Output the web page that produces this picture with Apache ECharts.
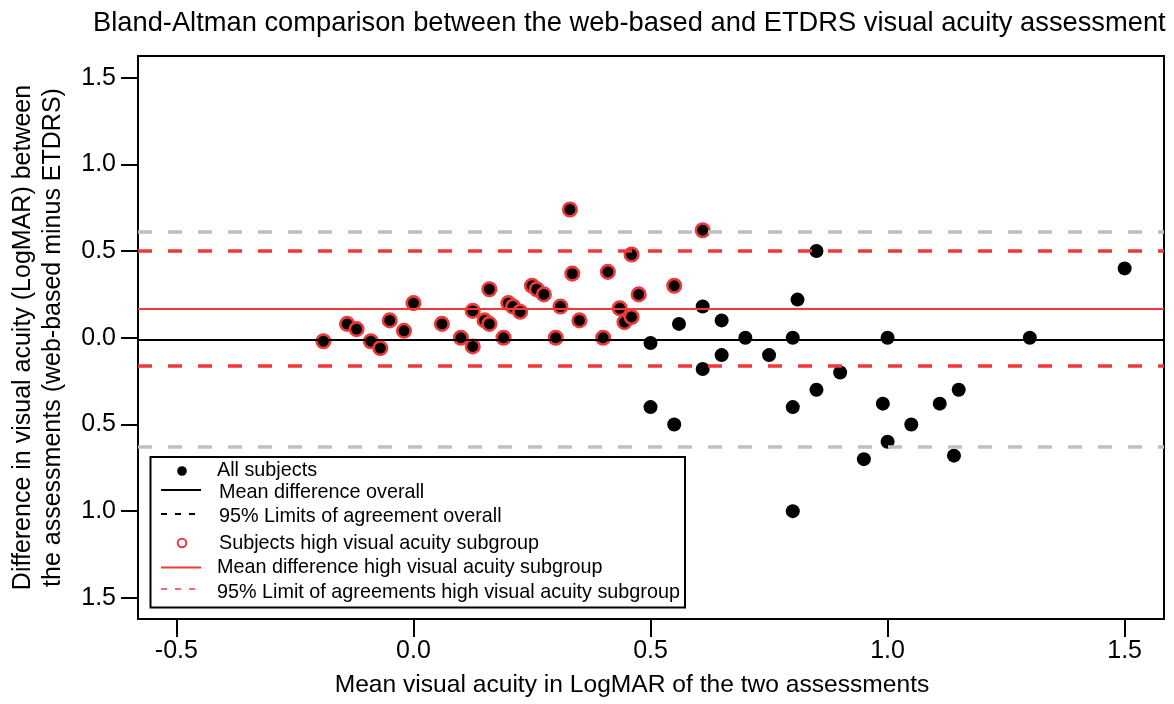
<!DOCTYPE html>
<html>
<head>
<meta charset="utf-8">
<script src="https://cdn.jsdelivr.net/npm/echarts@6/dist/echarts.min.js"></script>
<style>html,body{margin:0;padding:0;background:#fff}#c{width:1174px;height:704px}</style>
</head>
<body>
<div id="c"></div>
<script>
// ---- data ----
const subgroupX = [-0.19, -0.14, -0.12, -0.09, -0.07, -0.05, -0.02, 0.00, 0.06, 0.10, 0.125, 0.125, 0.15, 0.16, 0.16, 0.19, 0.20, 0.21, 0.225, 0.25, 0.26, 0.275, 0.30, 0.31, 0.33, 0.335, 0.35, 0.40, 0.41, 0.435, 0.445, 0.46, 0.46, 0.475, 0.55, 0.61];
const subgroupY = [-0.02, 0.08, 0.05, -0.02, -0.06, 0.10, 0.04, 0.20, 0.08, 0.00, 0.155, -0.05, 0.10, 0.08, 0.28, 0.00, 0.20, 0.18, 0.15, 0.30, 0.28, 0.25, 0.00, 0.18, 0.74, 0.37, 0.10, 0.00, 0.38, 0.17, 0.09, 0.48, 0.12, 0.25, 0.30, 0.62];
const otherX = [0.50, 0.56, 0.61, 0.85, 0.81, 0.65, 0.70, 0.80, 0.65, 0.75, 0.61, 0.85, 0.50, 0.80, 0.55, 0.80, 1.00, 0.90, 0.99, 1.11, 1.15, 1.05, 1.00, 0.95, 1.14, 1.50, 1.30];
const otherY = [-0.03, 0.08, 0.18, 0.50, 0.22, 0.10, 0.00, 0.00, -0.10, -0.10, -0.18, -0.30, -0.40, -0.40, -0.50, -1.00, 0.00, -0.20, -0.38, -0.38, -0.30, -0.50, -0.60, -0.70, -0.68, 0.40, 0.00];
const meanOverall = -0.011;
const loaOverall = [0.608, -0.631];
const meanHigh = 0.168;
const loaHigh = [0.502, -0.163];
const xTicks = [-0.5, 0.0, 0.5, 1.0, 1.5];
const yTicks = [-1.5, -1.0, -0.5, 0.0, 0.5, 1.0, 1.5];
const legendLabels = ['All subjects', 'Mean difference overall', '95% Limits of agreement overall',
  'Subjects high visual acuity subgroup', 'Mean difference high visual acuity subgroup',
  '95% Limit of agreements high visual acuity subgroup'];

const RED = '#f03838';
const GREY = '#c0c0c0';
const FONT = '"Liberation Sans", Arial, sans-serif';
const zip = (a, b) => a.map((v, i) => [v, b[i]]);

const chart = echarts.init(document.getElementById('c'), null, {renderer: 'canvas'});

const hLine = (v, color, width, type) => ({ yAxis: v, lineStyle: { color: color, width: width, type: type } });

const legendRowsY = [471, 493, 517, 544, 568, 593];
const legendTextX = [217, 219, 219, 219, 217, 217];
const legendChildren = [
  { type: 'rect', shape: { x: 150.5, y: 457, width: 534.5, height: 150.5 }, style: { fill: '#fff', stroke: '#000', lineWidth: 2 } },
  { type: 'circle', shape: { cx: 182, cy: 471, r: 4.8 }, style: { fill: '#000' } },
  { type: 'line', shape: { x1: 161, y1: 490, x2: 201, y2: 490 }, style: { stroke: '#000', lineWidth: 2 } },
  { type: 'line', shape: { x1: 161, y1: 514, x2: 201, y2: 514 }, style: { stroke: '#000', lineWidth: 2, lineDash: [6, 8] } },
  { type: 'circle', shape: { cx: 182, cy: 543, r: 4.3 }, style: { fill: '#fff', stroke: RED, lineWidth: 2 } },
  { type: 'line', shape: { x1: 161, y1: 567.5, x2: 201, y2: 567.5 }, style: { stroke: RED, lineWidth: 2 } },
  { type: 'line', shape: { x1: 161, y1: 589, x2: 201, y2: 589 }, style: { stroke: RED, lineWidth: 1.6, lineDash: [6, 8] } }
];
legendLabels.forEach((t, i) => {
  legendChildren.push({ type: 'text', x: legendTextX[i], y: legendRowsY[i],
    style: { text: t, fill: '#000', font: '19.8px ' + FONT, textVerticalAlign: 'middle', textAlign: 'left' } });
});

const option = {
  animation: false,
  backgroundColor: '#fff',
  title: {
    text: 'Bland-Altman comparison between the web-based and ETDRS visual acuity assessment',
    left: 88, top: 5,
    textStyle: { fontFamily: FONT, fontSize: 27.3, fontWeight: 'normal', color: '#000' }
  },
  grid: { left: 135, right: 10, top: 56, bottom: 85, show: true, borderColor: '#000', borderWidth: 2, backgroundColor: 'transparent' },
  xAxis: {
    type: 'value', min: -0.581, max: 1.583,
    name: 'Mean visual acuity in LogMAR of the two assessments',
    nameLocation: 'middle', nameGap: 54,
    nameTextStyle: { fontFamily: FONT, fontSize: 24.6, color: '#000', padding: [0, 38, 0, 0] },
    axisLine: { show: true, onZero: false, lineStyle: { color: '#000', width: 2 } },
    axisTick: { show: true, inside: false, length: 18, customValues: xTicks, lineStyle: { color: '#000', width: 2 } },
    axisLabel: { customValues: xTicks, margin: 20, fontFamily: FONT, fontSize: 25, color: '#000',
      formatter: v => v.toFixed(1) },
    splitLine: { show: false }
  },
  yAxis: {
    type: 'value', min: -1.622, max: 1.625,
    name: 'Difference in visual acuity (LogMAR) between\nthe assessments (web-based minus ETDRS)',
    nameLocation: 'middle', nameGap: 70, nameRotate: 90,
    nameTextStyle: { fontFamily: FONT, fontSize: 25, lineHeight: 30, color: '#000', align: 'center' },
    axisLine: { show: true, onZero: false, lineStyle: { color: '#000', width: 2 } },
    axisTick: { show: true, inside: false, length: 17, customValues: yTicks, lineStyle: { color: '#000', width: 2 } },
    axisLabel: { customValues: yTicks, margin: 22, fontFamily: FONT, fontSize: 25, color: '#000',
      formatter: v => Math.abs(v).toFixed(1) },
    splitLine: { show: false }
  },
  graphic: [{ type: 'group', z: 100, children: legendChildren }],
  series: [
    {
      name: 'means', type: 'scatter', data: [], z: 1, silent: true,
      markLine: { silent: true, symbol: ['none', 'none'], label: { show: false }, animation: false,
        data: [hLine(meanOverall, '#000', 2, 'solid'), hLine(meanHigh, RED, 2, 'solid')] }
    },
    {
      name: 'All subjects', type: 'scatter', z: 3, symbol: 'circle', symbolSize: 14,
      itemStyle: { color: '#000', opacity: 1 },
      data: zip(otherX, otherY)
    },
    {
      name: 'Subjects high visual acuity subgroup', type: 'scatter', z: 3, symbol: 'circle', symbolSize: 13.5,
      itemStyle: { color: '#000', borderColor: RED, borderWidth: 2.6, opacity: 1 },
      data: zip(subgroupX, subgroupY)
    },
    {
      name: 'limits', type: 'scatter', data: [], z: 5, silent: true,
      markLine: { silent: true, symbol: ['none', 'none'], label: { show: false }, animation: false,
        data: [hLine(loaOverall[0], GREY, 3.5, [14, 16]), hLine(loaOverall[1], GREY, 3.5, [14, 16]),
               hLine(loaHigh[0], RED, 3.5, [14, 16]), hLine(loaHigh[1], RED, 3.5, [14, 16])] }
    }
  ]
};
chart.setOption(option);
</script>
</body>
</html>
